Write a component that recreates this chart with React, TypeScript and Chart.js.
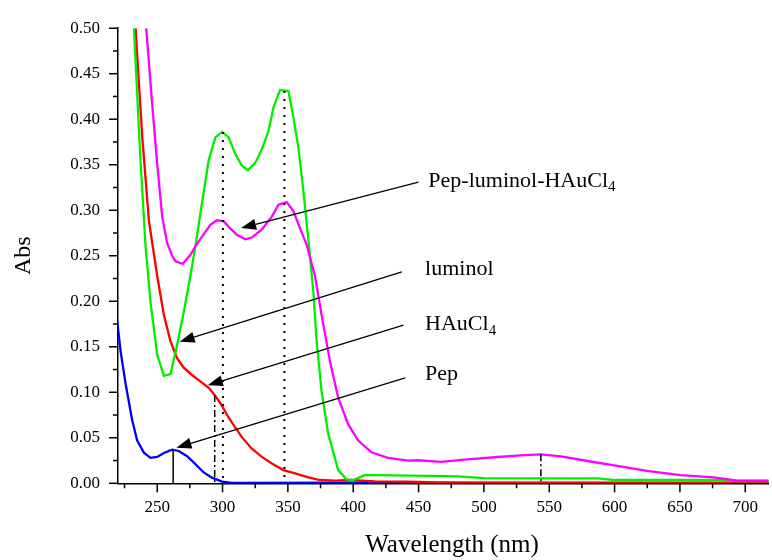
import React, { useEffect, useRef } from 'react';
import { Chart, registerables } from 'chart.js';

Chart.register(...registerables);

const FONT = '"Liberation Serif", "Times New Roman", serif';

// Axis limits and tick labels
const X_MIN = 220;
const X_MAX = 717.9;
const Y_MIN = 0;
const Y_MAX = 0.5;
const xTickValues = [250, 300, 350, 400, 450, 500, 550, 600, 650, 700];
const yTickValues = [0, 0.05, 0.1, 0.15, 0.2, 0.25, 0.3, 0.35, 0.4, 0.45, 0.5];
const X_TITLE = 'Wavelength (nm)';
const Y_TITLE = 'Abs';

// luminol (green)
const luminolNm = [232.2, 237.0, 241.1, 244.9, 250.0, 255.1, 260.2, 265.2, 270.3, 275.4, 279.2, 284.3, 289.4, 294.5, 299.6, 304.7, 309.7, 314.8, 319.4, 325.0, 330.1, 335.2, 339.0, 344.0, 350.4, 354.2, 358.0, 361.8, 366.2, 369.5, 372.0, 375.8, 380.9, 388.5, 394.9, 400.0, 408.8, 416.5, 472.0, 480.0, 500.0, 587.0, 600.0, 678.0, 690.0, 718.0];
const luminolAbs = [0.500, 0.360, 0.260, 0.199, 0.141, 0.118, 0.120, 0.152, 0.188, 0.228, 0.260, 0.308, 0.355, 0.380, 0.386, 0.380, 0.362, 0.349, 0.344, 0.352, 0.367, 0.387, 0.413, 0.432, 0.431, 0.402, 0.369, 0.322, 0.260, 0.210, 0.156, 0.101, 0.054, 0.0145, 0.0043, 0.0036, 0.009, 0.009, 0.0079, 0.0075, 0.0056, 0.0054, 0.0036, 0.0036, 0.0025, 0.0025];

// Pep-luminol-HAuCl4 (magenta)
const compositeNm = [241.6, 246.2, 250.0, 253.8, 257.6, 261.4, 264.0, 269.6, 275.4, 280.0, 284.3, 290.7, 295.7, 300.8, 305.9, 311.0, 317.4, 322.4, 330.1, 337.7, 342.8, 349.1, 354.2, 359.3, 364.4, 370.7, 375.8, 382.2, 388.5, 396.1, 403.8, 413.9, 426.6, 441.9, 449.5, 467.3, 485.2, 510.6, 528.3, 543.6, 558.8, 579.2, 602.0, 624.9, 650.3, 675.8, 693.6, 718.0];
const compositeAbs = [0.500, 0.416, 0.351, 0.293, 0.264, 0.250, 0.244, 0.241, 0.251, 0.262, 0.271, 0.284, 0.289, 0.288, 0.280, 0.273, 0.268, 0.270, 0.279, 0.293, 0.306, 0.309, 0.299, 0.280, 0.262, 0.228, 0.185, 0.134, 0.094, 0.065, 0.047, 0.034, 0.028, 0.025, 0.0253, 0.0235, 0.026, 0.0289, 0.0307, 0.0318, 0.0296, 0.0245, 0.0191, 0.0137, 0.009, 0.0065, 0.0028, 0.0028];

// HAuCl4 (red)
const haucl4Nm = [233.5, 234.7, 238.6, 243.6, 246.2, 250.0, 255.1, 260.2, 265.2, 270.3, 276.7, 283.0, 289.4, 294.5, 299.6, 304.7, 309.7, 314.8, 322.4, 330.1, 337.7, 346.6, 355.5, 365.6, 374.5, 386.0, 398.7, 406.3, 416.5, 441.9, 464.8, 500.0, 700.0, 718.0];
const haucl4Abs = [0.500, 0.470, 0.380, 0.289, 0.264, 0.228, 0.185, 0.156, 0.1375, 0.127, 0.119, 0.112, 0.105, 0.096, 0.085, 0.072, 0.0615, 0.0507, 0.038, 0.029, 0.0217, 0.0145, 0.0109, 0.0065, 0.0036, 0.0029, 0.0036, 0.0029, 0.0022, 0.0018, 0.0010, 0.0008, 0.0008, 0.0018];

// Pep (blue)
const pepNm = [219.5, 222.0, 225.9, 230.9, 234.7, 239.8, 244.9, 250.0, 255.1, 261.4, 266.5, 272.9, 279.2, 285.6, 291.9, 299.6, 307.2, 400.0, 420.0, 450.0, 718.0];
const pepAbs = [0.177, 0.145, 0.1086, 0.069, 0.047, 0.0337, 0.0279, 0.029, 0.0333, 0.037, 0.0355, 0.0297, 0.021, 0.0119, 0.0062, 0.0018, 0.0004, 0.0008, 0.0012, 0.0004, 0.0003];

// Vertical marker lines: wavelength, top absorbance, style
const markerNm = [262.2, 294.0, 300.3, 347.3, 543.6];
const markerTop = [0.037, 0.097, 0.386, 0.431, 0.032];
const markerStyle = ['solid', 'dashdot', 'dot', 'dot', 'dashdot'];

// Annotation labels (text, subscript, anchor in data units) and arrows
const labelText = ['Pep-luminol-HAuCl', 'luminol', 'HAuCl', 'Pep'];
const labelSub = ['4', '', '4', ''];
const labelNm = [457.5, 455.0, 455.0, 455.0];
const labelAbs = [0.332, 0.2351, 0.1743, 0.120];
const arrowFromNm = [449.9, 437.2, 438.5, 439.8];
const arrowFromAbs = [0.331, 0.2323, 0.1737, 0.1157];
const arrowToNm = [314.2, 267.2, 288.7, 264.7];
const arrowToAbs = [0.2804, 0.1556, 0.1078, 0.0391];

const toPoints = (xs: number[], ys: number[]) => xs.map((x, i) => ({ x, y: ys[i] }));

const decorPlugin = {
  id: 'decor',
  afterDatasetsDraw(chart: any) {
    const { ctx, chartArea, scales } = chart;
    const xs = scales.x;
    const ys = scales.y;
    ctx.save();
    ctx.strokeStyle = '#000';
    ctx.fillStyle = '#000';

    // marker lines
    markerNm.forEach((nm, i) => {
      const px = xs.getPixelForValue(nm);
      const top = ys.getPixelForValue(markerTop[i]);
      const bot = ys.getPixelForValue(0);
      ctx.beginPath();
      const st = markerStyle[i];
      if (st === 'dot') {
        ctx.lineWidth = 2;
        ctx.setLineDash([2, 6]);
      } else if (st === 'dashdot') {
        ctx.lineWidth = 1.5;
        ctx.setLineDash([7, 3, 2, 3]);
      } else {
        ctx.lineWidth = 1.5;
        ctx.setLineDash([]);
      }
      ctx.moveTo(px, top);
      ctx.lineTo(px, bot);
      ctx.stroke();
    });
    ctx.setLineDash([]);

    // tick marks (major at labels, minor halfway)
    ctx.lineWidth = 1.5;
    const bottom = chartArea.bottom;
    for (let v = 225; v <= X_MAX; v += 25) {
      const px = xs.getPixelForValue(v);
      const len = v % 50 === 0 ? 9 : 5;
      ctx.beginPath();
      ctx.moveTo(px, bottom);
      ctx.lineTo(px, bottom + len);
      ctx.stroke();
    }
    const left = chartArea.left;
    for (let k = 0; k <= 20; k++) {
      const v = k * 0.025;
      const py = ys.getPixelForValue(v);
      const len = k % 2 === 0 ? 9 : 5;
      ctx.beginPath();
      ctx.moveTo(left - len, py);
      ctx.lineTo(left, py);
      ctx.stroke();
    }

    // arrows
    ctx.lineWidth = 1.3;
    arrowFromNm.forEach((nm, i) => {
      const x1 = xs.getPixelForValue(nm);
      const y1 = ys.getPixelForValue(arrowFromAbs[i]);
      const x2 = xs.getPixelForValue(arrowToNm[i]);
      const y2 = ys.getPixelForValue(arrowToAbs[i]);
      const ang = Math.atan2(y2 - y1, x2 - x1);
      const hl = 15;
      const hw = 5.5;
      const bx = x2 - hl * Math.cos(ang);
      const by = y2 - hl * Math.sin(ang);
      ctx.beginPath();
      ctx.moveTo(x1, y1);
      ctx.lineTo(bx, by);
      ctx.stroke();
      ctx.beginPath();
      ctx.moveTo(x2, y2);
      ctx.lineTo(bx + hw * Math.sin(ang), by - hw * Math.cos(ang));
      ctx.lineTo(bx - hw * Math.sin(ang), by + hw * Math.cos(ang));
      ctx.closePath();
      ctx.fill();
    });

    // labels
    ctx.textBaseline = 'middle';
    ctx.textAlign = 'left';
    labelText.forEach((t, i) => {
      const px = xs.getPixelForValue(labelNm[i]);
      const py = ys.getPixelForValue(labelAbs[i]);
      ctx.font = '22px ' + FONT;
      ctx.fillText(t, px, py);
      if (labelSub[i]) {
        const w = ctx.measureText(t).width;
        ctx.font = '15px ' + FONT;
        ctx.fillText(labelSub[i], px + w, py + 6);
      }
    });

    // axis titles
    ctx.font = '25px ' + FONT;
    ctx.textAlign = 'center';
    ctx.textBaseline = 'middle';
    ctx.fillText(X_TITLE, chartArea.left + 334, chart.height - 15);
    ctx.translate(24, (chartArea.top + chartArea.bottom) / 2);
    ctx.rotate(-Math.PI / 2);
    ctx.font = '24px ' + FONT;
    ctx.fillText(Y_TITLE, 0, 0);
    ctx.restore();
  },
};

export default function App() {
  const ref = useRef<HTMLCanvasElement>(null);
  useEffect(() => {
    document.body.style.margin = '0';
    const canvas = ref.current;
    if (!canvas) return;
    const chart = new Chart(canvas, {
      type: 'line',
      data: {
        datasets: [
          { label: 'Pep-luminol-HAuCl4', data: toPoints(compositeNm, compositeAbs), borderColor: '#ff00ff' },
          { label: 'luminol', data: toPoints(luminolNm, luminolAbs), borderColor: '#00ee00' },
          { label: 'HAuCl4', data: toPoints(haucl4Nm, haucl4Abs), borderColor: '#ff0000' },
          { label: 'Pep', data: toPoints(pepNm, pepAbs), borderColor: '#0000ff' },
        ],
      },
      options: {
        animation: false,
        responsive: false,
        maintainAspectRatio: false,
        layout: { padding: { top: 22.7, right: 0, left: 0, bottom: 0 } },
        plugins: { legend: { display: false }, tooltip: { enabled: false } },
        elements: {
          point: { radius: 0 },
          line: { borderWidth: 2.3, tension: 0, fill: false },
        },
        scales: {
          x: {
            type: 'linear',
            min: X_MIN,
            max: X_MAX,
            afterFit: (s: any) => { s.height = 76.7; },
            afterBuildTicks: (s: any) => { s.ticks = xTickValues.map((v) => ({ value: v })); },
            grid: { display: false, drawTicks: false },
            border: { display: true, color: '#000', width: 1.5 },
            ticks: {
              autoSkip: false,
              maxRotation: 0,
              color: '#000',
              padding: 14,
              font: { family: FONT, size: 17 },
              callback: (v: any) => String(v),
            },
            title: { display: false },
          },
          y: {
            type: 'linear',
            min: Y_MIN,
            max: Y_MAX,
            afterFit: (s: any) => { s.width = 118; },
            afterBuildTicks: (s: any) => { s.ticks = yTickValues.map((v) => ({ value: v })); },
            grid: { display: false, drawTicks: false },
            border: { display: true, color: '#000', width: 1.5 },
            ticks: {
              autoSkip: false,
              color: '#000',
              padding: 18,
              font: { family: FONT, size: 17 },
              callback: (v: any) => Number(v).toFixed(2),
            },
            title: { display: false },
          },
        },
      },
      plugins: [decorPlugin],
    } as any);
    return () => chart.destroy();
  }, []);
  return (
    <div style={{ width: 772, height: 560 }}>
      <canvas ref={ref} width={772} height={560} style={{ display: 'block' }} />
    </div>
  );
}
